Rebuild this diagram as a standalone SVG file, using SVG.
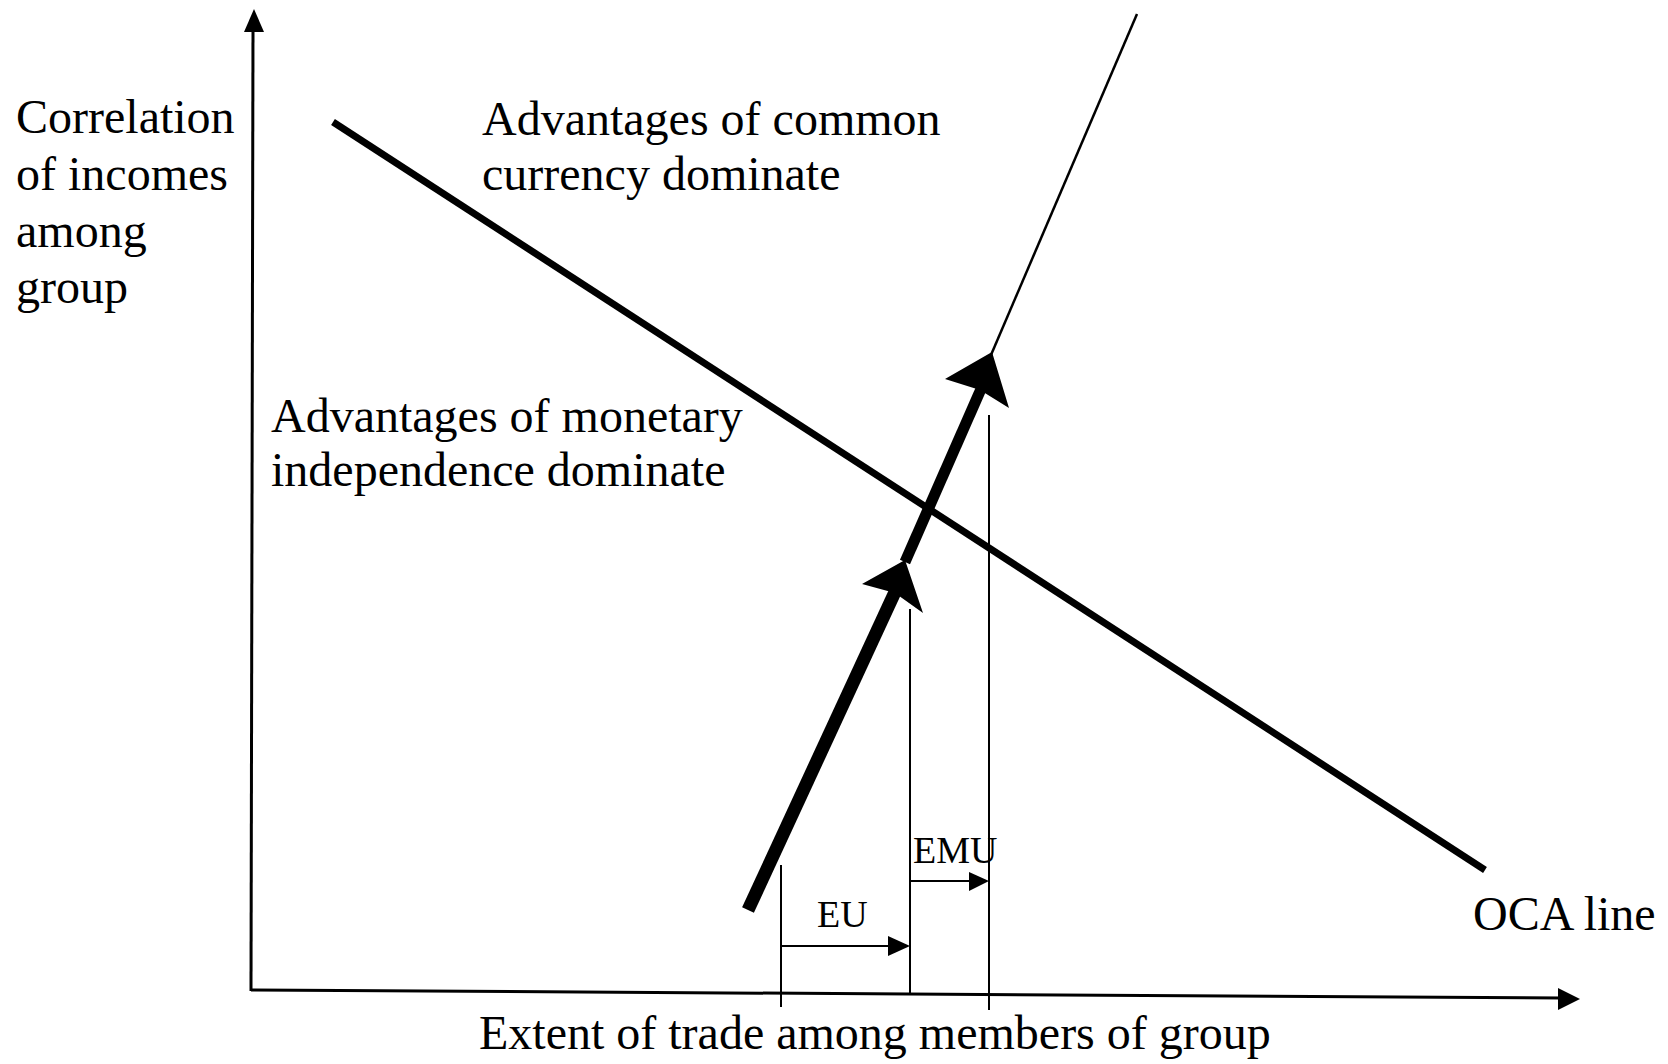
<svg xmlns="http://www.w3.org/2000/svg" width="1668" height="1064" viewBox="0 0 1668 1064">
<style>
.t{font-family:"Liberation Serif","Times New Roman",serif;font-size:48px;fill:#000}
.s{font-family:"Liberation Serif","Times New Roman",serif;font-size:38px;fill:#000}
.ax{stroke:#000;stroke-width:3;fill:none}
.thin{stroke:#000;stroke-width:2;fill:none}
.head{fill:#000;stroke:none}
</style>
<rect width="1668" height="1064" fill="#fff"/>
<g id="connectors">
  <!-- axes -->
  <line class="ax" x1="251" y1="991" x2="253" y2="28"/>
  <polygon class="head" points="254,9 264,32 244,32"/>
  <line class="ax" x1="251" y1="990" x2="1562" y2="998"/>
  <polygon class="head" points="1580,999 1558,1010 1558,988"/>
  <!-- OCA line -->
  <line x1="333" y1="122" x2="1485" y2="870" stroke="#000" stroke-width="7"/>
  <!-- thick arrow path -->
  <line x1="748" y1="910" x2="895" y2="592" stroke="#000" stroke-width="13"/>
  <polygon class="head" points="905,560 923,613 895,593 862,584"/>
  <line x1="905" y1="562" x2="981" y2="389" stroke="#000" stroke-width="11"/>
  <polygon class="head" points="992,352 1009,408 980,390 945,379"/>
  <line x1="991" y1="355" x2="1137" y2="14" stroke="#000" stroke-width="2.5"/>
  <!-- verticals -->
  <line class="thin" x1="781" y1="865" x2="781" y2="1007"/>
  <line class="thin" x1="910" y1="609" x2="910" y2="993"/>
  <line class="thin" x1="989" y1="415" x2="989" y2="1010"/>
  <!-- EU / EMU arrows -->
  <line class="thin" x1="781" y1="946" x2="892" y2="946"/>
  <polygon class="head" points="910,946 888,956 888,936"/>
  <line class="thin" x1="910" y1="881" x2="972" y2="881"/>
  <polygon class="head" points="989,881 969,891 969,872"/>
</g>
<g id="y-label"><text class="t" x="16" y="133">Correlation</text><text class="t" x="16" y="190">of incomes</text><text class="t" x="16" y="247">among</text><text class="t" x="16" y="303">group</text></g>
<g id="common-label"><text class="t" x="482" y="135">Advantages of common</text><text class="t" x="482" y="190">currency dominate</text></g>
<g id="monetary-label"><text class="t" x="271" y="432">Advantages of monetary</text><text class="t" x="271" y="486">independence dominate</text></g>
<g id="oca-label"><text class="t" x="1473" y="930">OCA line</text></g>
<g id="x-label"><text class="t" x="479" y="1049">Extent of trade among members of group</text></g>
<g id="eu-label"><text class="s" x="817" y="927">EU</text></g>
<g id="emu-label"><text class="s" x="913" y="863">EMU</text></g>
</svg>
